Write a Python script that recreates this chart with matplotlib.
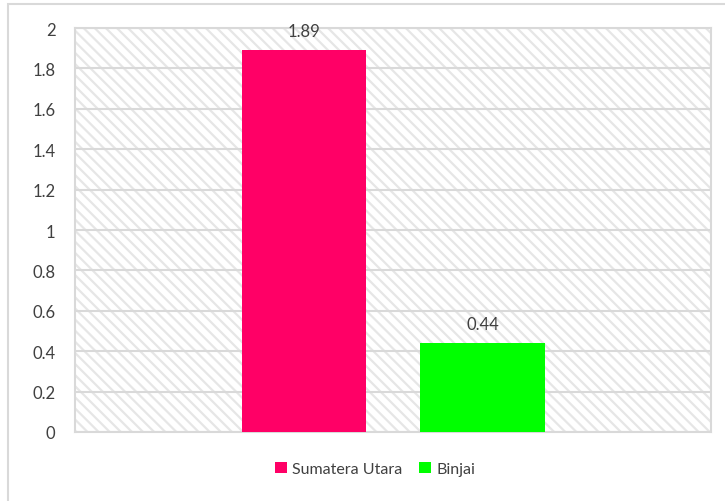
import matplotlib
matplotlib.use("Agg")
import matplotlib.pyplot as plt
from matplotlib.patches import Rectangle

categories = ["Sumatera Utara", "Binjai"]
values = [1.89, 0.44]
colors = ["#FF0066", "#00FF00"]
yticks = [0, 0.2, 0.4, 0.6, 0.8, 1, 1.2, 1.4, 1.6, 1.8, 2]
ytick_labels = ["0", "0.2", "0.4", "0.6", "0.8", "1", "1.2", "1.4", "1.6", "1.8", "2"]

plt.rcParams['font.family'] = ['Lato', 'DejaVu Sans']
plt.rcParams['hatch.linewidth'] = 1.6
plt.rcParams['hatch.color'] = '#E6E6E6'

W, H = 725, 502
fig = plt.figure(figsize=(W / 100, H / 100), dpi=100)
# outer chart border
fig.patches.append(Rectangle((8 / W, -0.1), 1.2, (H - 5) / H + 0.1, transform=fig.transFigure,
                             fill=False, edgecolor='#D9D9D9', linewidth=1.5))

left, right, top, bottom = 75, 711, 29, 433
ax = fig.add_axes([left / W, 1 - bottom / H, (right - left) / W, (bottom - top) / H])

# hatched background
ax.add_patch(Rectangle((0, 0), 1, 1, transform=ax.transAxes, facecolor='white',
                       edgecolor='#E6E6E6', hatch='\\\\\\', linewidth=0, zorder=0))

x = list(range(len(categories)))
bars = ax.bar(x, values, width=0.695, color=colors, zorder=3)
for b, v in zip(bars, values):
    ax.annotate(f"{v:.2f}", (b.get_x() + b.get_width() / 2, v), xytext=(0, 8),
                textcoords='offset points', ha='center', va='bottom',
                fontsize=12, color='#404040')

ax.set_xlim(-1.283, 2.280)
ax.set_ylim(0, 2)
ax.set_yticks(yticks)
ax.set_yticklabels(ytick_labels)
ax.set_xticks([])
ax.yaxis.grid(True, color='#D9D9D9', linewidth=1.5, zorder=1)
ax.set_axisbelow(True)
ax.tick_params(axis='y', length=0, pad=14, labelsize=12, labelcolor='#404040')
for s in ax.spines.values():
    s.set_color('#D9D9D9')
    s.set_linewidth(1.5)

leg = fig.legend(handles=list(bars), labels=categories, loc='center',
                 bbox_to_anchor=(375 / W, 1 - 470 / H), ncol=2, frameon=False,
                 fontsize=11.5, handlelength=0.75, handleheight=0.75, handletextpad=0.3,
                 columnspacing=1.1)
for t in leg.get_texts():
    t.set_color('#404040')

fig.savefig("out.png", dpi=100)
